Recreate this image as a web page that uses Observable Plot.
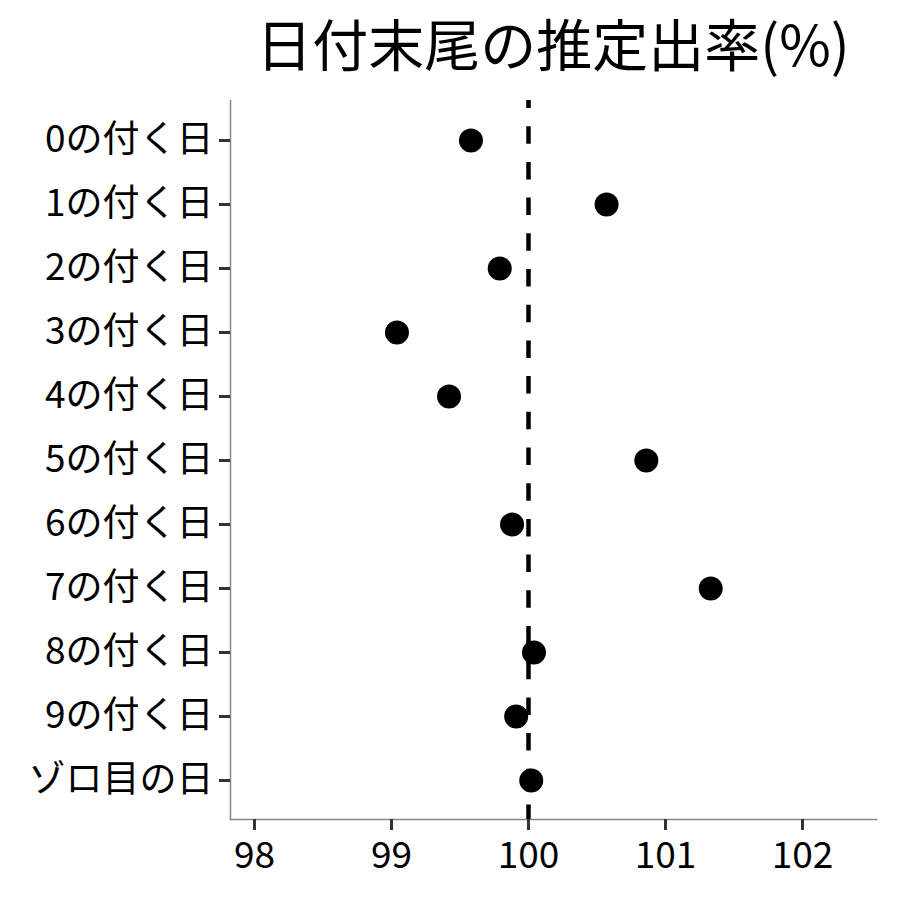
<!DOCTYPE html>
<html><head><meta charset="utf-8">
<script src="https://cdn.jsdelivr.net/npm/d3@7"></script>
<script src="https://cdn.jsdelivr.net/npm/@observablehq/plot@0.6"></script>
<style>
body{margin:0;background:#fff;}
#title{width:900px;height:90px;box-sizing:border-box;padding-left:230px;padding-right:24px;text-align:center;font-family:'Noto Sans CJK JP',sans-serif;font-size:56px;line-height:84px;color:#000;white-space:nowrap;}
</style></head><body>
<div id="title"></div><div id="chart"></div>
<script>
const title = "日付末尾の推定出率(%)";
const categories = ["0の付く日","1の付く日","2の付く日","3の付く日","4の付く日","5の付く日","6の付く日","7の付く日","8の付く日","9の付く日","ゾロ目の日"];
const values = [99.58, 100.57, 99.79, 99.04, 99.42, 100.86, 99.88, 101.33, 100.04, 99.91, 100.02];
const xTicks = [98, 99, 100, 101, 102];
const xDomain = [97.825, 102.54];
const refValue = [100];

document.getElementById("title").textContent = title;
const data = categories.map((c, i) => ({cat: c, val: values[i]}));

const chart = Plot.plot({
  width: 900,
  height: 810,
  marginTop: 10,
  marginBottom: 81,
  marginLeft: 230,
  marginRight: 24,
  style: {fontFamily: "'Noto Sans CJK JP', sans-serif", fontSize: "37px", background: "white", color: "black"},
  x: {domain: xDomain, ticks: xTicks, tickFormat: d => String(d), label: null},
  y: {type: "point", domain: categories, padding: 0.59, label: null},
  marks: [
    Plot.frame({anchor: "left", stroke: "#888", strokeWidth: 1.5}),
    Plot.frame({anchor: "bottom", stroke: "#888", strokeWidth: 1.5}),
    Plot.axisX({ticks: xTicks, tickFormat: d => String(d), tickSize: 11, tickPadding: 11, stroke: "#333", strokeWidth: 3, fill: "black", fontSize: 37, label: null}),
    Plot.axisY({tickSize: 11, tickPadding: 6, stroke: "#333", strokeWidth: 3, fill: "black", fontSize: 37, label: null}),
    Plot.dot(data, {x: "val", y: "cat", r: 12, fill: "black", stroke: null}),
    Plot.ruleX(refValue, {stroke: "black", strokeWidth: 4.5, strokeDasharray: "17.5,18.2", strokeDashoffset: 9.5})
  ]
});
document.getElementById("chart").appendChild(chart);
</script>
</body></html>
